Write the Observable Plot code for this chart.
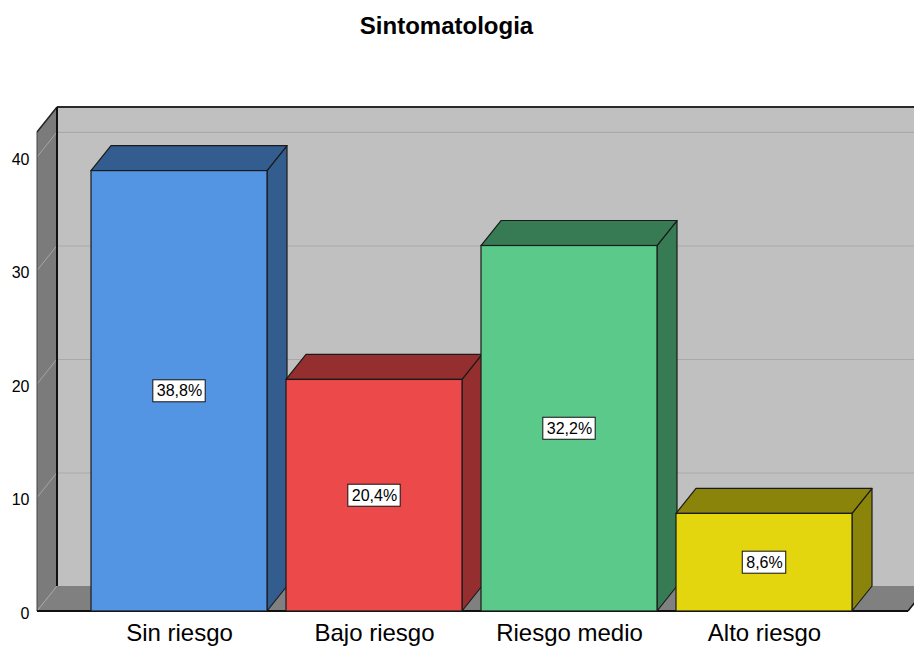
<!DOCTYPE html>
<html><head><meta charset="utf-8">
<script src="https://cdn.jsdelivr.net/npm/d3@7"></script>
<script src="https://cdn.jsdelivr.net/npm/@observablehq/plot@0.6"></script>
<style>
body{margin:0;background:#fff;font-family:"Liberation Sans",Arial,sans-serif;overflow:hidden;}
#title{height:60px;box-sizing:border-box;padding-top:12px;padding-right:21px;text-align:center;font-weight:bold;font-size:24px;line-height:28px;color:#000;}
#chart svg{display:block;}
</style></head><body>
<div id="title">Sintomatologia</div>
<div id="chart"></div>
<script>
const categories = ["Sin riesgo", "Bajo riesgo", "Riesgo medio", "Alto riesgo"];
const percents = [38.8, 20.4, 32.2, 8.6];
const labels = ["38,8%", "20,4%", "32,2%", "8,6%"];
const yTicks = [0, 10, 20, 30, 40];
const frontColors = ["#5495e3", "#ec4a4a", "#5bc98a", "#e3d60f"];
const sideColors = ["#335d8f", "#952e2e", "#367b53", "#8b840a"];

const data = categories.map((c, i) => ({cat: c, value: percents[i], label: labels[i], side: sideColors[i]}));

const DX = 20, DY = -25;
const YMAX = 42.2;
const NS = "http://www.w3.org/2000/svg";
function el(name, attrs) { const e = document.createElementNS(NS, name); for (const k in attrs) e.setAttribute(k, attrs[k]); return e; }
function pts(a) { return a.map(p => p.join(",")).join(" "); }

function backWall(index, scales, values, dim) {
  const {width, marginLeft, marginRight} = dim;
  const y = scales.y;
  const x0 = marginLeft, x1 = width - marginRight, yb = y(0), yt = y(YMAX);
  const g = el("g", {});
  g.appendChild(el("rect", {x: x0 + DX, y: yt + DY, width: x1 - x0, height: yb - yt, fill: "#c0c0c0"}));
  g.appendChild(el("line", {x1: x0 + DX, y1: yt + DY, x2: x1 + DX, y2: yt + DY, stroke: "#2a2a2a", "stroke-width": 2}));
  return g;
}

function sideWalls(index, scales, values, dim) {
  const {width, marginLeft, marginRight} = dim;
  const y = scales.y;
  const x0 = marginLeft, x1 = width - marginRight, yb = y(0), yt = y(YMAX);
  const g = el("g", {});
  // floor
  g.appendChild(el("polygon", {points: pts([[x0, yb], [x0 + DX, yb + DY], [x1 + DX, yb + DY], [x1, yb]]), fill: "#808080"}));
  // left wall
  g.appendChild(el("polygon", {points: pts([[x0, yb], [x0, yt], [x0 + DX, yt + DY], [x0 + DX, yb + DY]]), fill: "#7b7b7b"}));
  for (const t of yTicks) {
    g.appendChild(el("line", {x1: x0, y1: y(t), x2: x0 + DX, y2: y(t) + DY, stroke: "#a6a6a6", "stroke-width": 1}));
  }
  g.appendChild(el("line", {x1: x0, y1: yt, x2: x0 + DX, y2: yt + DY, stroke: "#222", "stroke-width": 1.5}));
  g.appendChild(el("line", {x1: x0, y1: yt, x2: x0, y2: yb, stroke: "#444", "stroke-width": 1}));
  g.appendChild(el("line", {x1: x0 + DX, y1: yt + DY, x2: x0 + DX, y2: yb + DY, stroke: "#111", "stroke-width": 2}));
  g.appendChild(el("line", {x1: x0, y1: yb, x2: x1, y2: yb, stroke: "#111", "stroke-width": 2}));
  g.appendChild(el("line", {x1: x1, y1: yb, x2: x1 + DX, y2: yb + DY, stroke: "#111", "stroke-width": 1.5}));
  return g;
}

function barFaces(index, scales, values, dim) {
  const x = scales.x, y = scales.y, bw = x.bandwidth();
  const g = el("g", {});
  for (const d of data) {
    const xa = x(d.cat), xb = xa + bw, yv = y(d.value), y0 = y(0);
    g.appendChild(el("polygon", {points: pts([[xb, yv], [xb + DX, yv + DY], [xb + DX, y0 + DY], [xb, y0]]), fill: d.side, stroke: "#1a1a1a", "stroke-width": 1.2, "stroke-linejoin": "round"}));
    g.appendChild(el("polygon", {points: pts([[xa, yv], [xa + DX, yv + DY], [xb + DX, yv + DY], [xb, yv]]), fill: d.side, stroke: "#1a1a1a", "stroke-width": 1.2, "stroke-linejoin": "round"}));
  }
  return g;
}

function textWidth(s, fs) {
  let w = 0;
  for (const ch of s) w += ch === "," ? 0.278 : ch === "%" ? 0.889 : 0.556;
  return w * fs;
}

function labelBoxes(index, scales, values, dim) {
  const x = scales.x, y = scales.y, bw = x.bandwidth();
  const g = el("g", {});
  for (const d of data) {
    const cx = x(d.cat) + bw / 2, cy = y(d.value / 2);
    const w = textWidth(d.label, 16) + 7;
    g.appendChild(el("rect", {x: cx - w / 2, y: cy - 11, width: w, height: 22, fill: "#fff", stroke: "#111", "stroke-width": 1}));
  }
  return g;
}

const chart = Plot.plot({
  width: 914,
  height: 588,
  marginLeft: 37,
  marginRight: 6,
  marginTop: 72,
  marginBottom: 37,
  x: {domain: categories, paddingInner: 0.1, paddingOuter: 0.2757, align: 0.49, label: null},
  y: {domain: [0, YMAX], label: null},
  color: {domain: categories, range: frontColors},
  style: {fontFamily: "'Liberation Sans', Arial, sans-serif", color: "#000", background: "#fff", overflow: "hidden"},
  marks: [
    backWall,
    Plot.ruleY(yTicks.slice(1), {dx: DX, dy: DY, stroke: "#a9a9a9", strokeWidth: 1.2}),
    sideWalls,
    barFaces,
    Plot.barY(data, {x: "cat", y: "value", fill: "cat", stroke: "#1a1a1a", strokeWidth: 1.2}),
    labelBoxes,
    Plot.text(data, {x: "cat", y: d => d.value / 2, text: "label", fontSize: 16, fill: "#000"}),
    Plot.axisY({ticks: yTicks, tickSize: 0, tickPadding: 8, fontSize: 16, label: null, dy: 2}),
    Plot.axisX({tickSize: 0, tickPadding: 12, fontSize: 24, label: null})
  ]
});
document.getElementById("chart").appendChild(chart);
</script>
</body></html>
